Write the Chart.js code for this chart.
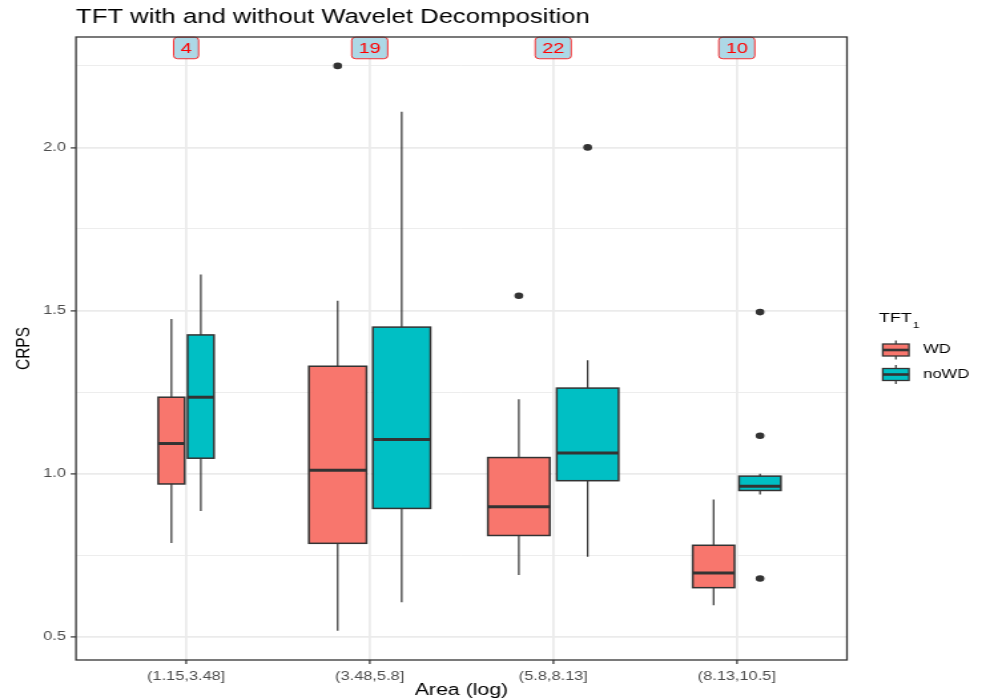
<!DOCTYPE html>
<html>
<head>
<meta charset="utf-8">
<script src="https://cdn.jsdelivr.net/npm/chart.js@4.4.1/dist/chart.umd.min.js"></script>
<style>
  html, body { margin: 0; padding: 0; background: #fff; overflow: hidden; }
  /* the reference is stretched sideways, so draw narrow and stretch */
  #wrap { position: absolute; left: 0; top: 0; width: 738px; height: 699px;
          transform: scaleX(1.33062); transform-origin: 0 0; }
</style>
</head>
<body>
<div id="wrap"><canvas id="boxChart"></canvas></div>
<script>
const categories = ['(1.15,3.48]', '(3.48,5.8]', '(5.8,8.13]', '(8.13,10.5]'];
const counts = [4, 19, 22, 10];
const groups = ['WD', 'noWD'];

// WD
const wdLow = [0.787, 0.518, 0.689, 0.596];
const wdQ1 = [0.968, 0.786, 0.810, 0.650];
const wdMed = [1.092, 1.010, 0.898, 0.695];
const wdQ3 = [1.234, 1.329, 1.049, 0.780];
const wdHigh = [1.474, 1.530, 1.228, 0.920];
const wdOut = [[], [2.25], [1.545], []];

// noWD
const nowdLow = [0.885, 0.605, 0.745, 0.936];
const nowdQ1 = [1.047, 0.893, 0.978, 0.948];
const nowdMed = [1.234, 1.104, 1.063, 0.961];
const nowdQ3 = [1.425, 1.449, 1.262, 0.992];
const nowdHigh = [1.610, 2.109, 1.347, 0.999];
const nowdOut = [[], [], [2.0], [1.495, 1.116, 0.678]];

const yMajor = [0.5, 1.0, 1.5, 2.0];
const yMinor = [0.75, 1.25, 1.75, 2.25];

const maxCount = Math.max(...counts);
const DODGE = 0.375, BOX_W = 0.3375, LABEL_Y = 2.305;
const INK = '#333333';

const series = [
  { name: groups[0], color: '#F8766D', side: -1, low: wdLow, q1: wdQ1, med: wdMed, q3: wdQ3, high: wdHigh, out: wdOut },
  { name: groups[1], color: '#00BFC4', side: 1, low: nowdLow, q1: nowdQ1, med: nowdMed, q3: nowdQ3, high: nowdHigh, out: nowdOut }
];

function boxCenter(i, side) {
  return i + 1 + side * DODGE / 2 * Math.sqrt(counts[i] / maxCount);
}

function outlierPoints(s) {
  const pts = [];
  s.out.forEach((vals, i) => {
    vals.forEach(v => pts.push({ x: boxCenter(i, s.side), y: v }));
  });
  return pts;
}

Chart.defaults.font.family = "'Liberation Sans', Arial, sans-serif";

// boxes, whiskers and medians
const boxPlugin = {
  id: 'boxes',
  beforeDatasetsDraw(chart) {
    const { ctx, scales: { x, y } } = chart;
    ctx.save();
    series.forEach(s => {
      categories.forEach((c, i) => {
        const cx = boxCenter(i, s.side);
        const hw = BOX_W * Math.sqrt(counts[i] / maxCount) / 2;
        const xl = x.getPixelForValue(cx - hw), xr = x.getPixelForValue(cx + hw), xm = x.getPixelForValue(cx);
        const yq1 = y.getPixelForValue(s.q1[i]), yq3 = y.getPixelForValue(s.q3[i]);
        ctx.strokeStyle = INK;
        ctx.lineWidth = 1.2;
        ctx.beginPath();
        ctx.moveTo(xm, y.getPixelForValue(s.high[i])); ctx.lineTo(xm, yq3);
        ctx.moveTo(xm, yq1); ctx.lineTo(xm, y.getPixelForValue(s.low[i]));
        ctx.stroke();
        ctx.fillStyle = s.color;
        ctx.fillRect(xl, yq3, xr - xl, yq1 - yq3);
        ctx.lineWidth = 1.5;
        ctx.strokeRect(xl, yq3, xr - xl, yq1 - yq3);
        const ym = y.getPixelForValue(s.med[i]);
        ctx.lineWidth = 3;
        ctx.beginPath();
        ctx.moveTo(xl, ym); ctx.lineTo(xr, ym);
        ctx.stroke();
      });
    });
    ctx.restore();
  },
  afterDraw(chart) {
    const { ctx, chartArea: a, scales: { x, y } } = chart;
    ctx.save();
    // count labels
    ctx.font = "15px 'Liberation Sans', Arial, sans-serif";
    ctx.textAlign = 'center';
    ctx.textBaseline = 'middle';
    counts.forEach((n, i) => {
      const t = String(n);
      const w = ctx.measureText(t).width + 10.4;
      const px = x.getPixelForValue(i + 1), py = y.getPixelForValue(LABEL_Y);
      ctx.beginPath();
      ctx.roundRect(px - w / 2, py - 10.8, w, 21.6, 3);
      ctx.fillStyle = '#ADD8E6';
      ctx.fill();
      ctx.strokeStyle = '#FF0000';
      ctx.lineWidth = 0.8;
      ctx.stroke();
      ctx.fillStyle = '#FF0000';
      ctx.fillText(t, px, py + 0.5);
    });
    // panel border
    ctx.strokeStyle = INK;
    ctx.lineWidth = 1.3;
    ctx.strokeRect(a.left, a.top, a.right - a.left, a.bottom - a.top);
    // legend
    ctx.textAlign = 'left';
    ctx.fillStyle = '#000';
    ctx.font = "13.5px 'Liberation Sans', Arial, sans-serif";
    ctx.fillText('TFT', 660.6, 318.7);
    const tw = ctx.measureText('TFT').width;
    ctx.font = "9px 'Liberation Sans', Arial, sans-serif";
    ctx.textBaseline = 'alphabetic';
    ctx.fillText('1', 660.6 + tw + 0.6, 328);
    series.forEach((s, k) => {
      const cy = 350 + k * 24.5;
      ctx.strokeStyle = INK;
      ctx.lineWidth = 1.2;
      ctx.beginPath();
      ctx.moveTo(673.25, cy - 9.5); ctx.lineTo(673.25, cy + 9.5);
      ctx.stroke();
      ctx.fillStyle = s.color;
      ctx.fillRect(663.4, cy - 6, 19.7, 12);
      ctx.lineWidth = 1.3;
      ctx.strokeRect(663.4, cy - 6, 19.7, 12);
      ctx.lineWidth = 2.6;
      ctx.beginPath();
      ctx.moveTo(663.4, cy); ctx.lineTo(683.1, cy);
      ctx.stroke();
      ctx.fillStyle = '#000';
      ctx.font = "12.5px 'Liberation Sans', Arial, sans-serif";
      ctx.textBaseline = 'middle';
      ctx.fillText(s.name, 693.7, cy);
    });
    ctx.restore();
  }
};

const ctx = document.getElementById('boxChart').getContext('2d');
const boxChart = new Chart(ctx, {
  type: 'scatter',
  data: {
    datasets: series.map(s => ({
      label: s.name,
      data: outlierPoints(s),
      pointRadius: 3.3,
      pointBackgroundColor: INK,
      pointBorderWidth: 0,
      showLine: false
    }))
  },
  options: {
    responsive: true,
    maintainAspectRatio: false,
    animation: false,
    events: [],
    layout: { padding: { left: 0, right: 101.5, top: 0, bottom: 0 } },
    scales: {
      x: {
        type: 'linear',
        min: 0.4,
        max: 4.6,
        afterBuildTicks: s => { s.ticks = categories.map((c, i) => ({ value: i + 1 })); },
        afterFit: s => { s.height = 39; },
        border: { display: false },
        grid: { color: '#EBEBEB', lineWidth: 1.8, tickLength: 4, tickColor: INK, tickWidth: 1.2 },
        ticks: {
          autoSkip: false,
          maxRotation: 0,
          padding: 5.7,
          color: '#4D4D4D',
          font: { size: 12.3 },
          callback: v => categories[v - 1]
        },
        title: { display: true, text: 'Area (log)', color: '#000', font: { size: 16, lineHeight: 1.1 }, padding: 0 }
      },
      y: {
        min: 0.4282,
        max: 2.3386,
        afterBuildTicks: s => { s.ticks = yMajor.concat(yMinor).sort((a, b) => a - b).map(v => ({ value: v })); },
        afterFit: s => { s.width = 57.1; },
        border: { display: false },
        grid: {
          color: '#EBEBEB',
          lineWidth: c => yMajor.includes(c.tick.value) ? 1.8 : 0.9,
          tickLength: 4,
          tickColor: c => yMajor.includes(c.tick.value) ? INK : 'rgba(0,0,0,0)',
          tickWidth: 1.2
        },
        ticks: {
          autoSkip: false,
          padding: 3.5,
          color: '#4D4D4D',
          font: { size: 12.3 },
          callback: v => yMajor.includes(v) ? v.toFixed(1) : ''
        },
        title: { display: true, text: 'CRPS', color: '#000', font: { size: 15.5 }, padding: { top: 8.7, bottom: 0 } }
      }
    },
    plugins: {
      legend: { display: false },
      tooltip: { enabled: false },
      title: {
        display: true,
        text: 'TFT with and without Wavelet Decomposition',
        align: 'start',
        fullSize: false,
        color: '#000',
        font: { size: 19.3, weight: 'normal' },
        padding: { top: 6.4, bottom: 7.44 }
      }
    }
  },
  plugins: [boxPlugin]
});
</script>
</body>
</html>
